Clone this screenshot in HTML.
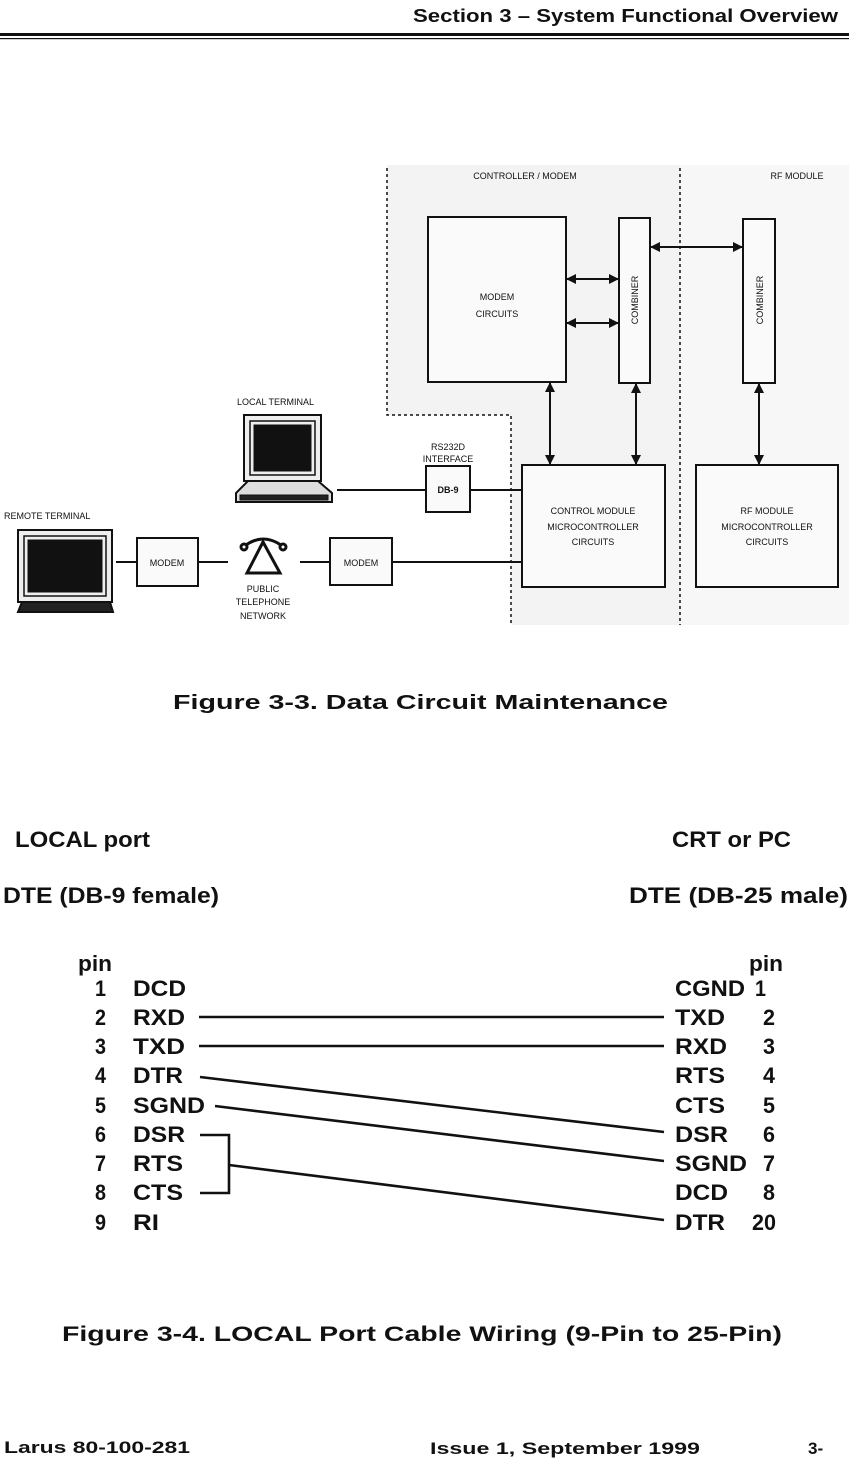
<!DOCTYPE html>
<html><head><meta charset="utf-8"><style>
html,body{margin:0;padding:0;background:#fff;}
svg{display:block;}
text{font-family:"Liberation Sans",Arial,sans-serif;fill:#111;}
</style></head><body>
<svg width="849" height="1467" viewBox="0 0 849 1467" xmlns="http://www.w3.org/2000/svg">
<defs>
<marker id="ah" markerWidth="10" markerHeight="10" refX="9" refY="5" orient="auto-start-reverse" markerUnits="userSpaceOnUse">
<path d="M0,0 L10,5 L0,10 Z" fill="#111"/></marker>
</defs>
<text x="413" y="22" font-size="18" font-weight="bold" textLength="425" lengthAdjust="spacingAndGlyphs">Section 3 – System Functional Overview</text>
<rect x="0" y="33" width="849" height="3" fill="#111"/>
<rect x="0" y="38" width="849" height="1.2" fill="#111"/>

<rect x="387" y="165" width="293" height="250" fill="#f3f3f3"/>
<rect x="511" y="415" width="169" height="210" fill="#f3f3f3"/>
<rect x="680" y="165" width="169" height="460" fill="#f7f7f7"/>

<g stroke="#111" stroke-width="1.5" stroke-dasharray="3,3" fill="none">
<path d="M387,168 V415 H511 V625"/>
<path d="M680,168 V625"/>
</g>
<g font-size="9" text-anchor="middle">
<text x="525" y="179">CONTROLLER / MODEM</text>
<text x="797" y="179">RF MODULE</text>
</g>
<g stroke="#111" stroke-width="2" fill="#fafafa">
<rect x="428" y="217" width="138" height="165"/>
<rect x="619" y="218" width="31" height="165"/>
<rect x="743" y="219" width="32" height="164"/>
<rect x="522" y="465" width="143" height="122"/>
<rect x="696" y="465" width="142" height="122"/>
<rect x="426" y="466" width="44" height="46"/>
<rect x="137" y="538" width="61" height="48"/>
<rect x="330" y="538" width="62" height="47"/>
</g>
<g font-size="9" text-anchor="middle">
<text x="497" y="300">MODEM</text>
<text x="497" y="317">CIRCUITS</text>
<text transform="translate(638,300) rotate(-90)">COMBINER</text>
<text transform="translate(763,300) rotate(-90)">COMBINER</text>
<text x="593" y="514">CONTROL MODULE</text>
<text x="593" y="530">MICROCONTROLLER</text>
<text x="593" y="545">CIRCUITS</text>
<text x="767" y="514">RF MODULE</text>
<text x="767" y="530">MICROCONTROLLER</text>
<text x="767" y="545">CIRCUITS</text>
<text x="448" y="493" font-weight="bold">DB-9</text>
<text x="448" y="450">RS232D</text>
<text x="448" y="462">INTERFACE</text>
<text x="167" y="566">MODEM</text>
<text x="361" y="566">MODEM</text>
<text x="263" y="592">PUBLIC</text>
<text x="263" y="605">TELEPHONE</text>
<text x="263" y="619">NETWORK</text>
<text x="237" y="405" text-anchor="start">LOCAL TERMINAL</text>
<text x="4" y="519" text-anchor="start">REMOTE TERMINAL</text>
</g>
<g stroke="#111" stroke-width="2" fill="none" marker-start="url(#ah)" marker-end="url(#ah)">
<line x1="567" y1="279" x2="618" y2="279"/>
<line x1="567" y1="323" x2="618" y2="323"/>
<line x1="651" y1="247" x2="742" y2="247"/>
<line x1="550" y1="383" x2="550" y2="464"/>
<line x1="636" y1="384" x2="636" y2="464"/>
<line x1="759" y1="384" x2="759" y2="464"/>
</g>
<g stroke="#111" stroke-width="2" fill="none">
<line x1="337" y1="490" x2="426" y2="490"/>
<line x1="470" y1="490" x2="522" y2="490"/>
<line x1="116" y1="562" x2="137" y2="562"/>
<line x1="198" y1="562" x2="228" y2="562"/>
<line x1="300" y1="562" x2="330" y2="562"/>
<line x1="392" y1="562" x2="522" y2="562"/>
</g>
<g stroke="#111" stroke-width="3" fill="none">
<path d="M263,542 L247,573 H280 Z"/>
<path d="M246,545 Q263,533 281,545"/>
<circle cx="244" cy="547" r="3"/><circle cx="283" cy="547" r="3"/>
</g>
<g stroke="#111" fill="none">
<rect x="244" y="415" width="77" height="66" stroke-width="2" fill="#eee"/>
<rect x="250" y="421" width="65" height="54" stroke-width="1.5"/>
<rect x="254" y="425" width="57" height="46" fill="#111"/>
<path d="M248,481 H318 L332,493 V502 H236 V493 Z" stroke-width="2" fill="#ddd"/>
<rect x="240" y="495" width="88" height="5" fill="#222"/>
</g>
<g stroke="#111" fill="none">
<rect x="18" y="530" width="94" height="72" stroke-width="2" fill="#eee"/>
<rect x="24" y="536" width="82" height="60" stroke-width="1.5"/>
<rect x="28" y="540" width="74" height="52" fill="#111"/>
<path d="M22,602 H110 L113,612 H18 Z" stroke-width="2" fill="#222"/>
</g>

<text x="173" y="709" font-size="20" font-weight="bold" textLength="495" lengthAdjust="spacingAndGlyphs">Figure 3-3.  Data Circuit Maintenance</text>

<g font-size="22" font-weight="bold">
<text x="15" y="847" textLength="135" lengthAdjust="spacingAndGlyphs">LOCAL port</text>
<text x="672" y="847" textLength="119" lengthAdjust="spacingAndGlyphs">CRT or PC</text>
<text x="3" y="903" textLength="216" lengthAdjust="spacingAndGlyphs">DTE  (DB-9 female)</text>
<text x="629" y="903" textLength="219" lengthAdjust="spacingAndGlyphs">DTE  (DB-25 male)</text>
<text x="78" y="971" textLength="34" lengthAdjust="spacingAndGlyphs">pin</text>
<text x="749" y="971" textLength="34" lengthAdjust="spacingAndGlyphs">pin</text>
</g>
<g font-size="22" font-weight="bold">
<text x="95" y="996" textLength="11" lengthAdjust="spacingAndGlyphs">1</text><text x="133" y="996" textLength="53" lengthAdjust="spacingAndGlyphs">DCD</text>
<text x="95" y="1025" textLength="11" lengthAdjust="spacingAndGlyphs">2</text><text x="133" y="1025" textLength="52" lengthAdjust="spacingAndGlyphs">RXD</text>
<text x="95" y="1054" textLength="11" lengthAdjust="spacingAndGlyphs">3</text><text x="133" y="1054" textLength="52" lengthAdjust="spacingAndGlyphs">TXD</text>
<text x="95" y="1083" textLength="11" lengthAdjust="spacingAndGlyphs">4</text><text x="133" y="1083" textLength="50" lengthAdjust="spacingAndGlyphs">DTR</text>
<text x="95" y="1113" textLength="11" lengthAdjust="spacingAndGlyphs">5</text><text x="133" y="1113" textLength="72" lengthAdjust="spacingAndGlyphs">SGND</text>
<text x="95" y="1142" textLength="11" lengthAdjust="spacingAndGlyphs">6</text><text x="133" y="1142" textLength="52" lengthAdjust="spacingAndGlyphs">DSR</text>
<text x="95" y="1171" textLength="11" lengthAdjust="spacingAndGlyphs">7</text><text x="133" y="1171" textLength="50" lengthAdjust="spacingAndGlyphs">RTS</text>
<text x="95" y="1200" textLength="11" lengthAdjust="spacingAndGlyphs">8</text><text x="133" y="1200" textLength="50" lengthAdjust="spacingAndGlyphs">CTS</text>
<text x="95" y="1230" textLength="11" lengthAdjust="spacingAndGlyphs">9</text><text x="133" y="1230" textLength="26" lengthAdjust="spacingAndGlyphs">RI</text>
<text x="675" y="996" textLength="70" lengthAdjust="spacingAndGlyphs">CGND</text><text x="755" y="996" textLength="11" lengthAdjust="spacingAndGlyphs">1</text>
<text x="675" y="1025" textLength="50" lengthAdjust="spacingAndGlyphs">TXD</text><text x="763" y="1025" textLength="12" lengthAdjust="spacingAndGlyphs">2</text>
<text x="675" y="1054" textLength="52" lengthAdjust="spacingAndGlyphs">RXD</text><text x="763" y="1054" textLength="12" lengthAdjust="spacingAndGlyphs">3</text>
<text x="675" y="1083" textLength="50" lengthAdjust="spacingAndGlyphs">RTS</text><text x="763" y="1083" textLength="12" lengthAdjust="spacingAndGlyphs">4</text>
<text x="675" y="1113" textLength="50" lengthAdjust="spacingAndGlyphs">CTS</text><text x="763" y="1113" textLength="12" lengthAdjust="spacingAndGlyphs">5</text>
<text x="675" y="1142" textLength="53" lengthAdjust="spacingAndGlyphs">DSR</text><text x="763" y="1142" textLength="12" lengthAdjust="spacingAndGlyphs">6</text>
<text x="675" y="1171" textLength="72" lengthAdjust="spacingAndGlyphs">SGND</text><text x="763" y="1171" textLength="12" lengthAdjust="spacingAndGlyphs">7</text>
<text x="675" y="1200" textLength="53" lengthAdjust="spacingAndGlyphs">DCD</text><text x="763" y="1200" textLength="12" lengthAdjust="spacingAndGlyphs">8</text>
<text x="675" y="1230" textLength="50" lengthAdjust="spacingAndGlyphs">DTR</text><text x="752" y="1230" textLength="24" lengthAdjust="spacingAndGlyphs">20</text>
</g>
<g stroke="#111" stroke-width="2.6" fill="none">
<line x1="199" y1="1017" x2="664" y2="1017"/>
<line x1="199" y1="1046" x2="664" y2="1046"/>
<line x1="200" y1="1077" x2="664" y2="1132"/>
<line x1="215" y1="1106" x2="664" y2="1161"/>
<path d="M200,1135 H229 V1193 H200"/>
<line x1="229" y1="1165" x2="664" y2="1220"/>
</g>

<text x="62" y="1341" font-size="21" font-weight="bold" textLength="720" lengthAdjust="spacingAndGlyphs">Figure 3-4.  LOCAL Port Cable Wiring (9-Pin to 25-Pin)</text>

<text x="4" y="1453" font-size="17" font-weight="bold" textLength="186" lengthAdjust="spacingAndGlyphs">Larus 80-100-281</text>
<text x="430" y="1454" font-size="17" font-weight="bold" textLength="270" lengthAdjust="spacingAndGlyphs">Issue 1,  September 1999</text>
<text x="808" y="1454" font-size="17" font-weight="bold">3-</text>
</svg>
</body></html>
